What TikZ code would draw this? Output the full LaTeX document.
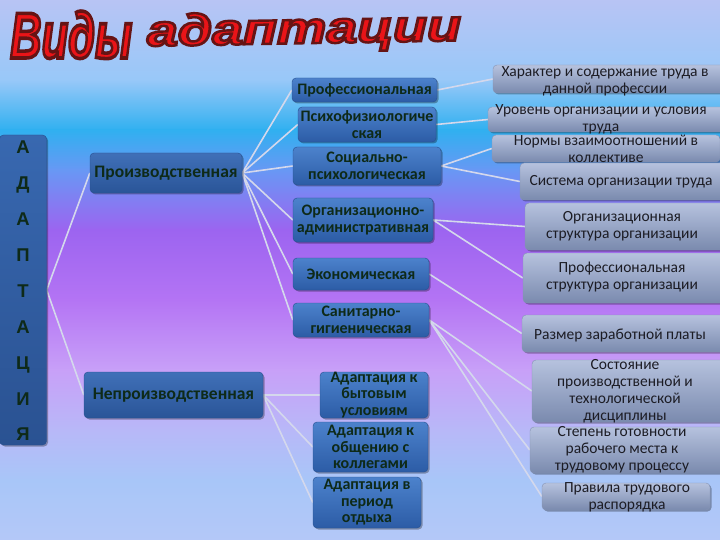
\documentclass[tikz,border=0pt]{standalone}
\usepackage{fontspec}
\setmainfont{Carlito}
\newfontfamily\arialfont{Liberation Sans}
\usetikzlibrary{shadows}
\pgfdeclarelayer{background}
\pgfsetlayers{background,main}
\definecolor{bgA}{HTML}{B8C4F4}
\definecolor{bgB}{HTML}{98C8F8}
\definecolor{bgC}{HTML}{30B0F0}
\definecolor{bgD}{HTML}{6898F4}
\definecolor{bgE}{HTML}{9C64F0}
\definecolor{bgF}{HTML}{B474F4}
\definecolor{bgG}{HTML}{C8A0F8}
\definecolor{bgH}{HTML}{B8B8F8}
\definecolor{bgI}{HTML}{A8C6F8}
\definecolor{bgJ}{HTML}{B4C8F8}
\definecolor{midtop}{HTML}{4C82CC}
\definecolor{midbot}{HTML}{2C5CA6}
\definecolor{midborder}{HTML}{27508F}
\definecolor{lefttop}{HTML}{4070B8}
\definecolor{leftbot}{HTML}{2A5598}
\definecolor{adtop}{HTML}{3868B0}
\definecolor{adbot}{HTML}{2A5292}
\definecolor{rtop}{HTML}{B6C2DE}
\definecolor{rbot}{HTML}{7A8AAE}
\definecolor{rborder}{HTML}{8694B4}
\definecolor{mtxt}{HTML}{0E2A18}
\definecolor{rtxt}{HTML}{1C1C24}
\definecolor{lineclr}{HTML}{D4D8EC}
\definecolor{titlered}{HTML}{EA1418}
\newcommand{\outlinedtitle}[1]{\special{pdf:literal direct 2 Tr 0.55 w 0.40 0.08 0.08 RG}#1\special{pdf:literal direct 0 Tr}}
\tikzset{
  boxshadow/.style={drop shadow={shadow xshift=1.5pt,shadow yshift=-1.5pt,opacity=0.3,fill=black}},
  midbox/.style={rounded corners=4pt, top color=midtop, bottom color=midbot, draw=midborder,
     text=mtxt, font=\fontsize{16}{16.5}\selectfont\bfseries, align=center, inner sep=0pt, boxshadow},
  leftbox/.style={rounded corners=4pt, top color=lefttop, bottom color=leftbot, draw=midborder,
     text=mtxt, font=\fontsize{17.5}{18}\selectfont\bfseries, align=center, inner sep=0pt, boxshadow},
  rbox/.style={rounded corners=4pt, top color=rtop, bottom color=rbot, draw=rborder, inner sep=0pt, boxshadow},
  rtext/.style={text=rtxt, font=\fontsize{15.5}{17}\selectfont, align=center, inner sep=0pt},
  conn/.style={draw=lineclr, line width=1.6pt},
  titletext/.style={text=titlered, font=\arialfont\bfseries\itshape, inner sep=0pt}
}
\begin{document}
\begin{tikzpicture}[x=1pt,y=-1pt]
\useasboundingbox (0,0) rectangle (720,540);
\clip (0,0) rectangle (720,540);

% left column
\node[rounded corners=4pt, top color=adtop, bottom color=adbot, draw=midborder, boxshadow,
      minimum width=47pt, minimum height=310pt, inner sep=0pt] (adapt) at (23,290) {};
\node[text=mtxt, font=\arialfont\bfseries\fontsize{18.5}{35.9}\selectfont, align=center, inner sep=0pt]
      (adtext) at (23,291) {А\\Д\\А\\П\\Т\\А\\Ц\\И\\Я};
\node[leftbox, minimum width=152pt, minimum height=40pt] (proizv) at (166,173) {Производственная};
\node[leftbox, minimum width=179pt, minimum height=46pt] (neproizv) at (173.5,395) {Непроизводственная};

% middle column
\node[midbox, minimum width=145pt, minimum height=24pt] (prof) at (364.5,90) {Профессиональная};
\node[midbox, minimum width=138pt, minimum height=35pt] (psy) at (367,124.5) {Психофизиологиче\\ская};
\node[midbox, minimum width=148pt, minimum height=38pt] (soc) at (367,166) {Социально-\\психологическая};
\node[midbox, minimum width=140pt, minimum height=44pt] (org) at (363,220) {Организационно-\\административная};
\node[midbox, minimum width=136pt, minimum height=32pt] (eco) at (361,274) {Экономическая};
\node[midbox, minimum width=136pt, minimum height=34pt] (san) at (361,320) {Санитарно-\\гигиеническая};
\node[midbox, minimum width=108pt, minimum height=46pt] (byt) at (374,395) {Адаптация к\\бытовым\\условиям};
\node[midbox, minimum width=115pt, minimum height=50pt] (obs) at (370.5,447) {Адаптация к\\общению с\\коллегами};
\node[midbox, minimum width=108pt, minimum height=51pt] (otd) at (367,502.5) {Адаптация в\\период\\отдыха};

% right column boxes
\node[rbox, minimum width=237pt, minimum height=28pt] (har) at (611.5,79) {};
\node[rbox, minimum width=242pt, minimum height=25pt] (urov) at (609,119.5) {};
\node[rbox, minimum width=228pt, minimum height=27pt] (norm) at (606,148.5) {};
\node[rbox, minimum width=210pt, minimum height=37pt] (sys) at (625,181.5) {};
\node[rbox, minimum width=205pt, minimum height=47pt] (orgs) at (627.5,226.5) {};
\node[rbox, minimum width=207pt, minimum height=50pt] (profs) at (626.5,278) {};
\node[rbox, minimum width=208pt, minimum height=37pt] (razm) at (626,333.5) {};
\node[rbox, minimum width=198pt, minimum height=62pt] (sost) at (631,391) {};
\node[rbox, minimum width=200pt, minimum height=46pt] (step) at (630,450) {};
\node[rbox, minimum width=168pt, minimum height=27pt] (prav) at (626,496.5) {};

% right column texts
\node[rtext] (harT) at (605,81.5) {Характер и содержание труда в\\данной профессии};
\node[rtext] (urovT) at (601,119.5) {Уровень организации и условия\\труда};
\node[rtext] (normT) at (606,149) {Нормы взаимоотношений в\\коллективе};
\node[rtext] (sysT) at (621,182) {Система организации труда};
\node[rtext] (orgsT) at (622,226.5) {Организационная\\структура организации};
\node[rtext] (profsT) at (622,277.5) {Профессиональная\\структура организации};
\node[rtext] (razmT) at (620,335) {Размер заработной платы};
\node[rtext] (sostT) at (625,391.5) {Состояние\\производственной и\\технологической\\дисциплины};
\node[rtext] (stepT) at (622,450) {Степень готовности\\рабочего места к\\трудовому процессу};
\node[rtext] (pravT) at (627,497.5) {Правила трудового\\распорядка};

% title
\node[titletext, anchor=base west] (t1) at (10,58) {\resizebox{122pt}{47pt}{\outlinedtitle{Виды}}};
\node[titletext, anchor=base west, rotate=1] (t2) at (147,46) {\resizebox{314pt}{32pt}{\outlinedtitle{адаптации}}};

\begin{pgfonlayer}{background}
  \foreach \ya/\yb/\ca/\cb in {0/80/bgA/bgB, 80/130/bgB/bgC, 130/170/bgC/bgD, 170/230/bgD/bgE,
      230/300/bgE/bgF, 300/370/bgF/bgG, 370/430/bgG/bgH, 430/480/bgH/bgI, 480/540/bgI/bgJ}
    \shade[top color=\ca, bottom color=\cb] (-1,\ya-0.5) rectangle (721,\yb+0.5);
  \draw[conn] (adapt.east) -- (proizv.west);
  \draw[conn] (adapt.east) -- (neproizv.west);
  \foreach \m in {prof,psy,soc,org,eco,san} \draw[conn] (proizv.east) -- (\m.west);
  \foreach \m in {byt,obs,otd} \draw[conn] (neproizv.east) -- (\m.west);
  \draw[conn] (prof.east) -- (har.west);
  \draw[conn] (psy.east) -- (urov.west);
  \draw[conn] (soc.east) -- (norm.west);
  \draw[conn] (soc.east) -- (sys.west);
  \draw[conn] (org.east) -- (orgs.west);
  \draw[conn] (org.east) -- (profs.west);
  \draw[conn] (eco.east) -- (razm.west);
  \draw[conn] (san.east) -- (sost.west);
  \draw[conn] (san.east) -- (step.west);
  \draw[conn] (san.east) -- (prav.west);
\end{pgfonlayer}
\end{tikzpicture}
\end{document}
